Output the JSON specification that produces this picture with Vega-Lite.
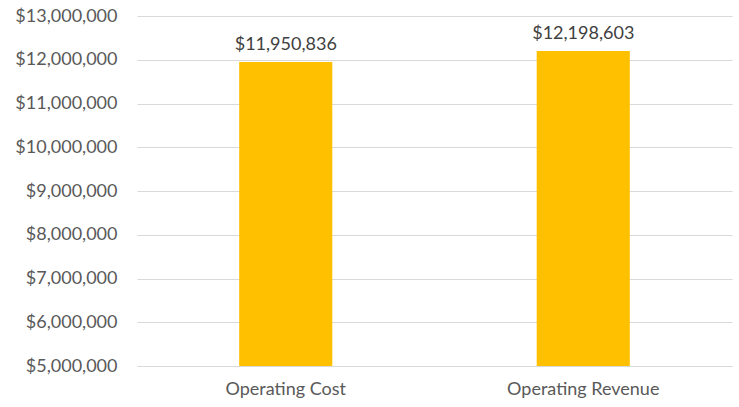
{
  "$schema": "https://vega.github.io/schema/vega-lite/v6.json",
  "width": 595,
  "height": 350,
  "autosize": {"type": "none"},
  "padding": {"left": 137, "top": 16, "right": 7, "bottom": 41},
  "background": "white",
  "config": {"view": {"stroke": null}, "font": "Lato"},
  "data": {"values": [
    {"category": "Operating Cost", "value": 11950836},
    {"category": "Operating Revenue", "value": 12198603}
  ]},
  "encoding": {
    "x": {"field": "category", "type": "nominal", "sort": null,
      "scale": {"paddingInner": 0, "paddingOuter": 0},
      "axis": {"title": null, "labelAngle": 0, "labelFont": "Lato", "labelFontSize": 18, "labelColor": "#595959", "ticks": false, "domainColor": "#D9D9D9", "labelPadding": 14}},
    "y": {"field": "value", "type": "quantitative",
      "scale": {"domain": [5000000, 13000000], "zero": false, "nice": false},
      "axis": {"title": null, "format": "$,.0f", "values": [5000000, 6000000, 7000000, 8000000, 9000000, 10000000, 11000000, 12000000, 13000000], "labelFont": "Lato", "labelFontSize": 18, "labelColor": "#595959", "ticks": false, "domain": false, "gridColor": "#D9D9D9", "labelPadding": 20}}
  },
  "layer": [
    {"mark": {"type": "bar", "color": "#FFC000", "width": {"band": 0.313}},
     "encoding": {"y2": {"datum": 5000000}}},
    {"mark": {"type": "text", "baseline": "bottom", "dy": -8, "fontSize": 18, "font": "Lato", "color": "#404040"},
     "encoding": {"text": {"field": "value", "type": "quantitative", "format": "$,.0f"}}}
  ]
}
